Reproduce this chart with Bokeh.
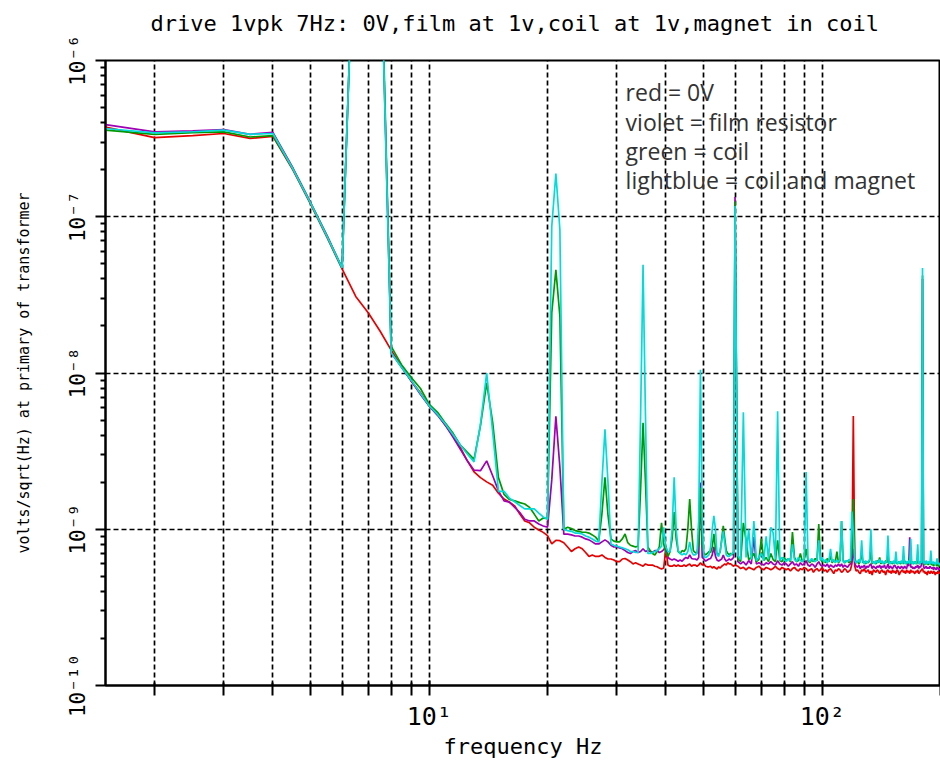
import numpy as np
from bokeh.plotting import figure
from bokeh.models import FixedTicker, Range1d, Label, CustomJSTickFormatter
from bokeh.embed import file_html
from bokeh.resources import INLINE

# ---------------- data (nV / sqrt(Hz)) ----------------
# frequency grid: 0.5 Hz steps up to 60 Hz, 1 Hz steps above
freq_hz = np.concatenate([np.arange(1.5, 60.01, 0.5), np.arange(61.0, 200.01, 1.0)])

red_0v = [
    375, 321, 331, 341, 317, 327, 199, 119, 73.2, 46.4,
    30.9, 24.2, 18.5, 14.0, 11.0, 8.87, 7.47, 6.14, 5.43, 4.62,
    3.95, 3.33, 2.74, 2.33, 2.14, 2.01, 1.91, 1.70, 1.56, 1.49,
    1.41, 1.25, 1.13, 1.10, 1.03, 0.99, 0.955, 0.91,
    0.805, 0.85, 0.845, 0.82, 0.77, 0.72, 0.75, 0.77, 0.75, 0.71,
    0.67, 0.685, 0.67, 0.67, 0.685, 0.66, 0.645, 0.645, 0.635, 0.62,
    0.62, 0.645, 0.65, 0.635, 0.62, 0.60, 0.61, 0.60, 0.59, 0.58,
    0.60, 0.59, 0.59, 0.59, 0.58, 0.575, 0.565, 0.557, 0.565, 0.75,
    0.59, 0.58, 0.58, 0.59, 0.58, 0.59, 0.58, 0.58, 0.59, 0.58,
    0.59, 0.60, 0.58, 0.59, 0.59, 0.58, 0.59, 0.61, 0.59, 0.60,
    0.58, 0.575, 0.575, 0.58, 0.565, 0.575, 0.565, 0.557, 0.575, 0.565,
    0.58, 0.59, 0.60, 0.59, 0.61, 0.60, 0.60, 0.59, 0.58, 0.59,
    0.58, 0.56, 0.57, 0.55, 0.57, 0.56, 0.55, 0.57, 0.58, 0.56,
    0.55, 0.57, 0.56, 0.55, 0.56, 0.58, 0.56, 0.55, 0.57, 0.56,
    0.55, 0.56, 0.54, 0.56, 0.57, 0.55, 0.54, 0.56, 0.55, 0.57,
    0.56, 0.54, 0.55, 0.56, 0.53, 0.55, 0.56, 0.54, 0.55, 0.57,
    0.54, 0.55, 0.53, 0.55, 0.56, 0.54, 0.52, 0.55, 0.54, 0.56,
    0.55, 0.53, 0.54, 0.56, 0.55, 0.53, 0.54, 0.55, 0.60, 5.3,
    0.58, 0.54, 0.55, 0.53, 0.52, 0.55, 0.54, 0.56, 0.53, 0.54,
    0.55, 0.52, 0.54, 0.51, 0.55, 0.54, 0.53, 0.55, 0.54, 0.52,
    0.54, 0.55, 0.53, 0.54, 0.51, 0.54, 0.55, 0.53, 0.54, 0.52,
    0.55, 0.53, 0.54, 0.52, 0.55, 0.54, 0.51, 0.53, 0.54, 0.55,
    0.53, 0.54, 0.52, 0.55, 0.53, 0.54, 0.52, 0.55, 0.53, 0.54,
    0.53, 0.52, 0.54, 0.53, 0.55, 0.52, 0.53, 0.54, 0.55, 0.56,
    0.53, 0.54, 0.52, 0.53, 0.51, 0.54, 0.53, 0.52, 0.54, 0.53,
    0.52, 0.54, 0.53, 0.51, 0.53, 0.52, 0.54, 0.53, 0.52, 0.53,
]

violet_film = [
    389, 349, 355, 361, 337, 347, 205, 122, 75.4, 47.1,
    15000, 60000, 7500, 13.5, 10.9, 8.87, 7.29, 6.13, 5.36, 4.62,
    3.88, 3.25, 2.74, 2.39, 2.37, 2.74, 2.20, 1.76, 1.52, 1.49,
    1.38, 1.28, 1.16, 1.13, 1.13, 1.08, 1.05, 1.03,
    2.07, 5.28, 2.49, 0.93, 0.93, 0.92, 0.905, 0.905, 0.89, 0.867,
    0.855, 0.83, 0.805, 0.805, 0.83, 0.855, 0.83, 0.79, 0.77, 0.77,
    0.76, 0.75, 0.73, 0.71, 0.70, 0.72, 0.73, 0.71, 0.72, 0.75,
    0.72, 0.73, 0.72, 0.71, 0.73, 0.73, 0.71, 0.72, 0.74, 0.78,
    0.66, 0.645, 0.635, 0.645, 0.635, 0.625, 0.635, 0.625, 0.645, 0.66,
    0.65, 0.685, 0.65, 0.645, 0.645, 0.635, 0.66, 1.99, 0.66, 0.645,
    0.625, 0.635, 0.645, 0.65, 0.685, 0.77, 0.67, 0.635, 0.625, 0.635,
    0.645, 0.685, 0.645, 0.625, 0.635, 0.645, 0.635, 0.645, 0.66, 134,
    0.62, 0.60, 0.62, 0.59, 0.63, 0.60, 0.89, 0.60, 0.61, 0.60,
    0.59, 0.61, 0.60, 0.62, 0.60, 0.59, 0.63, 0.60, 0.59, 0.61,
    0.60, 0.58, 0.60, 0.62, 0.59, 0.60, 0.58, 0.61, 0.59, 0.60,
    0.63, 0.59, 0.58, 0.60, 0.59, 0.57, 0.60, 0.62, 0.59, 0.58,
    0.59, 0.58, 0.60, 0.57, 0.59, 0.58, 0.57, 0.59, 0.58, 0.60,
    0.58, 0.60, 0.57, 0.59, 0.58, 0.57, 0.59, 0.60, 0.62, 0.75,
    0.60, 0.58, 0.57, 0.59, 0.56, 0.58, 0.57, 0.59, 0.56, 0.58,
    0.57, 0.59, 0.60, 0.56, 0.58, 0.57, 0.56, 0.58, 0.57, 0.59,
    0.56, 0.58, 0.57, 0.59, 0.56, 0.57, 0.60, 0.56, 0.58, 0.57,
    0.56, 0.58, 0.59, 0.57, 0.56, 0.58, 0.57, 0.56, 0.58, 0.57,
    0.56, 0.58, 0.57, 0.56, 0.60, 0.58, 0.89, 0.57, 0.58, 0.56,
    0.57, 0.56, 0.58, 0.57, 0.59, 0.56, 0.58, 0.57, 0.60, 40,
    0.58, 0.56, 0.57, 0.58, 0.56, 0.57, 0.56, 0.58, 0.57, 0.56,
    0.57, 0.55, 0.57, 0.56, 0.55, 0.57, 0.56, 0.55, 0.56, 0.55,
]

green_coil = [
    358, 337, 345, 349, 324, 331, 202, 121, 74.3, 47.1,
    15000, 60000, 9000, 14.8, 11.3, 9.36, 7.96, 6.29, 5.6, 4.76,
    4.11, 3.45, 3.11, 2.8, 4.6, 8.65, 4.83, 2.14, 1.67, 1.55,
    1.52, 1.48, 1.45, 1.38, 1.25, 1.13, 1.18, 1.17,
    24.2, 45.7, 23.0, 1.0, 1.03, 1.01, 0.98, 0.97, 0.957, 0.957,
    0.945, 0.92, 0.89, 0.84, 1.25, 2.15, 1.23, 0.867, 0.84, 0.83,
    0.83, 0.867, 0.933, 0.82, 0.79, 0.78, 0.77, 0.78, 1.8, 4.81,
    2.0, 0.77, 0.73, 0.70, 0.685, 0.72, 0.77, 1.10, 0.805, 0.71,
    0.67, 0.72, 0.867, 1.29, 0.867, 0.72, 0.70, 0.73, 0.72, 0.75,
    1.0, 1.56, 1.0, 0.73, 0.71, 0.70, 0.805, 1.85, 0.805, 0.70,
    0.685, 0.70, 0.72, 0.71, 0.77, 0.933, 0.75, 0.70, 0.685, 0.72,
    0.867, 1.05, 0.867, 0.73, 0.70, 0.685, 0.70, 0.685, 0.72, 125,
    0.65, 0.62, 1.10, 0.85, 0.64, 0.66, 0.70, 0.62, 0.64, 0.87,
    0.63, 0.66, 0.62, 0.70, 0.64, 0.62, 0.85, 0.63, 0.62, 0.66,
    0.63, 0.65, 0.62, 0.96, 0.66, 0.62, 0.63, 0.70, 0.62, 0.64,
    0.75, 0.63, 0.61, 0.64, 0.62, 0.65, 0.63, 1.08, 0.64, 0.62,
    0.63, 0.61, 0.65, 0.62, 0.68, 0.61, 0.63, 0.62, 0.72, 0.61,
    0.63, 1.13, 0.64, 0.61, 0.62, 0.63, 0.61, 0.62, 0.70, 1.56,
    0.66, 0.61, 0.62, 0.60, 0.63, 0.70, 0.61, 0.62, 0.60, 0.62,
    0.61, 0.63, 0.72, 0.60, 0.62, 0.61, 0.60, 0.63, 0.61, 0.66,
    0.60, 0.62, 0.61, 0.60, 0.63, 0.61, 0.68, 0.60, 0.62, 0.61,
    0.60, 0.62, 0.61, 0.63, 0.60, 0.61, 0.62, 0.60, 0.61, 0.62,
    0.60, 0.63, 0.61, 0.60, 0.62, 0.61, 0.66, 0.60, 0.62, 0.61,
    0.60, 0.62, 0.61, 0.60, 0.66, 0.61, 0.60, 0.62, 0.61, 42,
    0.61, 0.59, 0.62, 0.60, 0.61, 0.59, 0.62, 0.60, 0.61, 0.59,
    0.60, 0.58, 0.60, 0.59, 0.61, 0.58, 0.60, 0.59, 0.58, 0.60,
]

lightblue_coil_magnet = [
    367, 344, 350, 358, 337, 341, 202, 121, 74.3, 47.1,
    15000, 60000, 7500, 13.5, 10.9, 8.97, 7.4, 6.16, 5.43, 4.7,
    4.03, 3.45, 3.03, 2.7, 4.7, 10.0, 4.2, 1.75, 1.75, 1.58,
    1.5, 1.42, 1.35, 1.35, 1.35, 1.27, 1.2, 1.16,
    86.4, 189, 82.3, 1.0, 0.98, 0.97, 0.945, 0.945, 0.933, 0.905,
    0.89, 0.867, 0.84, 0.83, 1.99, 4.36, 1.99, 0.805, 0.79, 0.78,
    0.77, 0.76, 0.75, 0.74, 0.72, 0.72, 0.71, 0.71, 5.28, 49.2,
    5.28, 0.70, 0.70, 0.71, 0.72, 0.73, 0.75, 0.78, 1.03, 0.77,
    0.72, 0.72, 1.0, 2.15, 1.0, 0.73, 0.70, 0.685, 0.70, 0.685,
    0.72, 0.83, 0.72, 0.685, 0.685, 0.70, 1.16, 10.5, 1.16, 0.67,
    0.66, 0.67, 0.685, 0.77, 1.0, 1.22, 1.0, 0.685, 0.67, 0.73,
    0.84, 0.97, 0.805, 0.685, 0.67, 0.67, 0.685, 0.70, 0.71, 117,
    0.68, 0.64, 5.6, 0.66, 1.0, 0.64, 1.13, 0.63, 0.66, 0.70,
    0.63, 0.90, 0.64, 1.03, 0.95, 0.64, 5.7, 0.63, 0.66, 0.64,
    0.62, 0.65, 0.63, 0.80, 0.64, 0.62, 0.66, 0.63, 0.62, 0.65,
    2.32, 0.64, 0.62, 0.65, 0.63, 0.62, 0.64, 0.85, 0.63, 0.66,
    0.62, 0.64, 0.61, 0.63, 0.75, 0.62, 0.64, 0.61, 0.63, 0.62,
    0.64, 1.13, 0.62, 0.61, 0.63, 0.62, 0.64, 0.63, 1.30, 0.95,
    0.63, 0.61, 0.62, 0.64, 0.61, 0.85, 0.62, 0.60, 0.63, 0.61,
    0.62, 0.64, 1.00, 0.61, 0.62, 0.60, 0.63, 0.61, 0.62, 0.64,
    0.61, 0.63, 0.60, 0.62, 0.61, 0.63, 0.91, 0.61, 0.60, 0.62,
    0.61, 0.63, 0.60, 0.72, 0.61, 0.60, 0.62, 0.61, 0.63, 0.60,
    0.78, 0.61, 0.60, 0.62, 0.61, 0.63, 0.60, 0.87, 0.61, 0.60,
    0.62, 0.61, 0.60, 0.63, 0.80, 0.61, 0.60, 0.62, 0.61, 47,
    0.62, 0.60, 0.61, 0.63, 0.60, 0.62, 0.61, 0.60, 0.73, 0.61,
    0.60, 0.62, 0.61, 0.59, 0.61, 0.65, 0.60, 0.61, 0.59, 0.60,
]

series_names = ["red", "violet", "green", "lightblue"]
series_colors = ["#e80000", "#a000b4", "#009a00", "#00dcdc"]
series_values = [red_0v, violet_film, green_coil, lightblue_coil_magnet]

legend_lines = ["red = 0V", "violet = film resistor", "green = coil",
                "lightblue = coil and magnet"]

title_text = "drive 1vpk 7Hz: 0V,film at 1v,coil at 1v,magnet in coil"
x_major = [10.0, 100.0]
x_minor = [2, 3, 4, 5, 6, 7, 8, 9, 20, 30, 40, 50, 60, 70, 80, 90, 200]
y_major = [1e-10, 1e-9, 1e-8, 1e-7, 1e-6]
y_minor = [k * 10.0 ** e for e in range(-10, -6) for k in range(2, 10)]

# ---------------- figure ----------------
MONO = "DejaVu Sans Mono"
p = figure(width=940, height=761, x_axis_type="log", y_axis_type="log",
           x_range=Range1d(1.5, 200), y_range=Range1d(1e-10, 1e-6),
           output_backend="svg", toolbar_location=None,
           min_border_left=105, min_border_right=0, min_border_top=60,
           min_border_bottom=74, background_fill_color="white",
           border_fill_color="white")

# an empty second line lifts the title up, away from the frame
p.title.text = title_text + "\n "
p.title.text_font = MONO
p.title.text_font_size = "22px"
p.title.text_font_style = "normal"
p.title.text_color = "black"
p.title.align = "left"
p.title.vertical_align = "bottom"
p.title.offset = 45
p.title.standoff = 0

p.outline_line_color = "black"
p.outline_line_width = 2

fmt = CustomJSTickFormatter(code="""
const sup = {'-':'\u207b','0':'\u2070','1':'\u00b9','2':'\u00b2','3':'\u00b3','4':'\u2074',
             '5':'\u2075','6':'\u2076','7':'\u2077','8':'\u2078','9':'\u2079'};
const e = Math.round(Math.log10(tick));
return '10' + String(e).split('').map(c => sup[c]).join('');
""")

xt = FixedTicker(ticks=x_major, minor_ticks=x_minor)
yt = FixedTicker(ticks=y_major, minor_ticks=y_minor)
p.xaxis.ticker = xt
p.yaxis.ticker = yt
p.xgrid.ticker = xt
p.ygrid.ticker = yt
p.xaxis.formatter = fmt
p.yaxis.formatter = fmt

for ax in (p.xaxis, p.yaxis):
    ax.axis_line_width = 2
    ax.axis_line_color = "black"
    ax.major_tick_line_width = 2
    ax.minor_tick_line_width = 2
    ax.major_tick_line_color = "black"
    ax.minor_tick_line_color = "black"
    ax.major_label_text_font = MONO
    ax.major_label_text_color = "black"
    ax.axis_label_text_font = MONO
    ax.axis_label_text_font_style = "normal"
    ax.axis_label_text_color = "black"

p.xaxis.major_tick_in = 5
p.xaxis.major_tick_out = 10
p.xaxis.minor_tick_in = 3
p.xaxis.minor_tick_out = 10
p.xaxis.major_label_text_font_size = "25px"
p.xaxis.major_label_standoff = 6
p.xaxis.axis_label = "frequency Hz"
p.xaxis.axis_label_text_font_size = "22px"
p.xaxis.axis_label_standoff = 0

p.yaxis.major_tick_in = 0
p.yaxis.major_tick_out = 10
p.yaxis.minor_tick_in = 0
p.yaxis.minor_tick_out = 5
p.yaxis.major_label_text_font_size = "21px"
p.yaxis.major_label_orientation = "vertical"
p.yaxis.major_label_standoff = 6
p.yaxis.axis_label = "volts/sqrt(Hz) at primary of transformer"
p.yaxis.axis_label_text_font_size = "15px"
p.yaxis.axis_label_standoff = 30

for g in (p.xgrid, p.ygrid):
    g.grid_line_color = "black"
    g.grid_line_dash = "5 3"
    g.grid_line_width = 1.7
p.xgrid.minor_grid_line_color = "black"
p.xgrid.minor_grid_line_dash = "5 3"
p.xgrid.minor_grid_line_width = 1.7
p.ygrid.minor_grid_line_color = None

for vals, col in zip(series_values, series_colors):
    p.line(freq_hz, np.array(vals, dtype=float) * 1e-9, line_color=col,
           line_width=1.7)

# text legend (positions in data coordinates: Hz, V/sqrt(Hz))
legend_x = 31.6
legend_y = [6.26e-7, 4.02e-7, 2.62e-7, 1.71e-7]
for txt, yy in zip(legend_lines, legend_y):
    p.add_layout(Label(x=legend_x, y=yy, text=txt, text_font="Open Sans",
                       text_font_size="23px", text_color="#333333",
                       text_baseline="alphabetic", text_align="left"))

open("out.html", "w").write(file_html(p, INLINE))
